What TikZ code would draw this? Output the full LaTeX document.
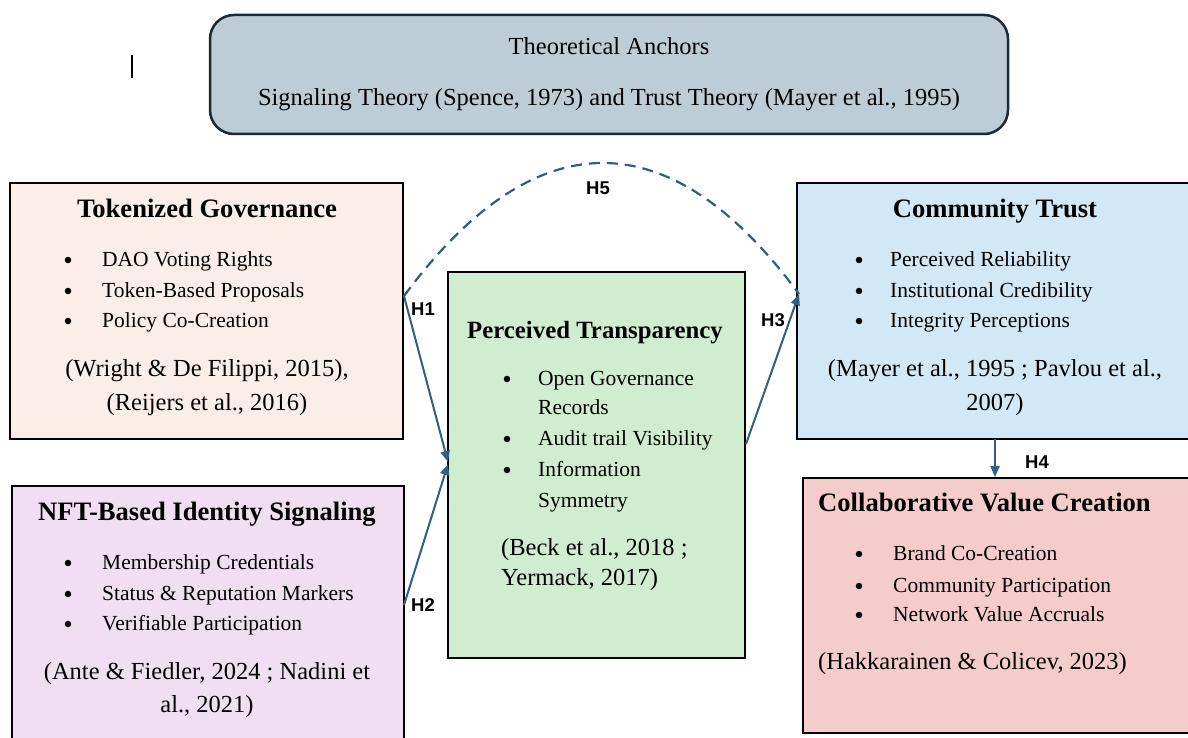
\documentclass[tikz,border=0pt]{standalone}
\usepackage{fontspec}
\setmainfont{Liberation Serif}
\newfontfamily\arialf{Liberation Sans}
\usetikzlibrary{arrows.meta}
\definecolor{topfill}{HTML}{BCCDD8}
\definecolor{topdraw}{HTML}{1E2A33}
\definecolor{tgfill}{HTML}{FBEEE9}
\definecolor{ptfill}{HTML}{D0EECF}
\definecolor{ctfill}{HTML}{D3E8F7}
\definecolor{cvfill}{HTML}{F4CDCA}
\definecolor{nffill}{HTML}{F2DEF2}
\definecolor{arrowc}{HTML}{2F5F84}
\tikzset{
  boxs/.style={draw=black, line width=2pt, inner sep=0pt},
  itemtxt/.style={font=\fontsize{21.5}{25}\selectfont, anchor=mid west, inner sep=0pt, yshift=-5pt},
  bul/.style={circle, fill=black, inner sep=0pt, minimum size=6.5pt, yshift=-1pt},
  cite/.style={font=\fontsize{24.5}{28}\selectfont, anchor=mid, inner sep=0pt, yshift=-5pt},
  citel/.style={font=\fontsize{24.5}{28}\selectfont, anchor=mid west, inner sep=0pt, yshift=-5pt},
  ttl/.style={font=\fontsize{26.6}{30}\selectfont\bfseries, anchor=mid, inner sep=0pt, yshift=-6pt},
  hlab/.style={font=\arialf\bfseries\fontsize{18.5}{22}\selectfont, anchor=center, inner sep=0pt},
  conn/.style={draw=arrowc, line width=2pt, -{Triangle[length=11pt,width=9pt]}},
  topt/.style={font=\fontsize{24.5}{28}\selectfont, anchor=mid, inner sep=0pt, yshift=-5pt}
}
\begin{document}
\begin{tikzpicture}[x=1pt,y=-1pt]
\useasboundingbox (0,0) rectangle (1188,738);
\clip (0,0) rectangle (1188,738);
\fill[white] (0,0) rectangle (1188,738);
% cursor mark
\draw[line width=1.6pt] (132,55) -- (132,78);
% top box
\path[draw=topdraw, fill=topfill, line width=2.5pt, rounded corners=24pt] (210,15) rectangle (1008,134);
\node[topt] (ta1) at (609,47) {Theoretical Anchors};
\node[topt] (ta2) at (609,98) {Signaling Theory (Spence, 1973) and Trust Theory (Mayer et al., 1995)};
% boxes
\node[boxs, fill=tgfill, minimum width=393pt, minimum height=255pt] (tg) at (206.5,311) {};
\node[boxs, fill=ptfill, minimum width=297pt, minimum height=386pt] (pt) at (596.5,465) {};
\node[boxs, fill=ctfill, minimum width=400pt, minimum height=255pt] (ct) at (997,311) {};
\node[boxs, fill=cvfill, minimum width=395pt, minimum height=255pt] (cv) at (1000.5,605.5) {};
\node[boxs, fill=nffill, minimum width=392pt, minimum height=262pt] (nf) at (208,617) {};
% Tokenized Governance
\node[ttl] at (207,209) {Tokenized Governance};
\foreach \y/\t in {259/DAO Voting Rights, 290/Token-Based Proposals, 320/Policy Co-Creation}{
  \node[bul] at (68,\y) {};
  \node[itemtxt] at (102,\y) {\t};
}
\node[cite] at (207,369) {(Wright \& De Filippi, 2015),};
\node[cite] at (207,403) {(Reijers et al., 2016)};
% NFT
\node[ttl] at (207,512) {NFT-Based Identity Signaling};
\foreach \y/\t in {562/Membership Credentials, 593/Status \& Reputation Markers, 623/Verifiable Participation}{
  \node[bul] at (68,\y) {};
  \node[itemtxt] at (102,\y) {\t};
}
\node[cite] at (207,672) {(Ante \& Fiedler, 2024 ; Nadini et};
\node[cite] at (207,705) {al., 2021)};
% Perceived Transparency
\node[ttl, font=\fontsize{24.8}{28}\selectfont\bfseries] at (595,330) {Perceived Transparency};
\foreach \y in {378,438,469}{
  \node[bul] at (507,\y) {};
}
\node[itemtxt] at (538,378) {Open Governance};
\node[itemtxt] at (538,407) {Records};
\node[itemtxt] at (538,438) {Audit trail Visibility};
\node[itemtxt] at (538,469) {Information};
\node[itemtxt] at (538,500) {Symmetry};
\node[citel] at (501,548) {(Beck et al., 2018 ;};
\node[citel] at (501,578) {Yermack, 2017)};
% Community Trust
\node[ttl] at (995,209) {Community Trust};
\foreach \y/\t in {259/Perceived Reliability, 290/Institutional Credibility, 320/Integrity Perceptions}{
  \node[bul] at (859,\y) {};
  \node[itemtxt] at (890,\y) {\t};
}
\node[cite] at (995,369) {(Mayer et al., 1995 ; Pavlou et al.,};
\node[cite] at (995,403) {2007)};
% Collaborative Value Creation
\node[ttl, anchor=mid west] at (818,503) {Collaborative Value Creation};
\foreach \y/\t in {553/Brand Co-Creation, 585/Community Participation, 614/Network Value Accruals}{
  \node[bul] at (859,\y) {};
  \node[itemtxt] at (893,\y) {\t};
}
\node[citel] at (818,662) {(Hakkarainen \& Colicev, 2023)};
% connector end points
\coordinate (h1s) at (404,296);
\coordinate (h1e) at (448,462);
\coordinate (h2s) at (404,605);
\coordinate (h2e) at (448,464);
\coordinate (h3s) at (746,444);
\coordinate (h3e) at (799,294);
\coordinate (h4s) at (995,439);
\coordinate (h4e) at (995,477);
% connectors
\draw[conn] (h1s) -- (h1e);
\draw[conn] (h2s) -- (h2e);
\draw[conn] (h3s) -- (h3e);
\draw[conn] (h4s) -- (h4e);
\draw[draw=arrowc, line width=2.2pt, dash pattern=on 11pt off 7pt] (h1s) .. controls (535,119) and (670,119) .. (h3e);
% labels
\node[hlab] (H1) at (423,309) {H1};
\node[hlab] (H2) at (423,605) {H2};
\node[hlab] (H3) at (773,320) {H3};
\node[hlab] (H4) at (1037,462) {H4};
\node[hlab] (H5) at (598,188) {H5};
\end{tikzpicture}
\end{document}
